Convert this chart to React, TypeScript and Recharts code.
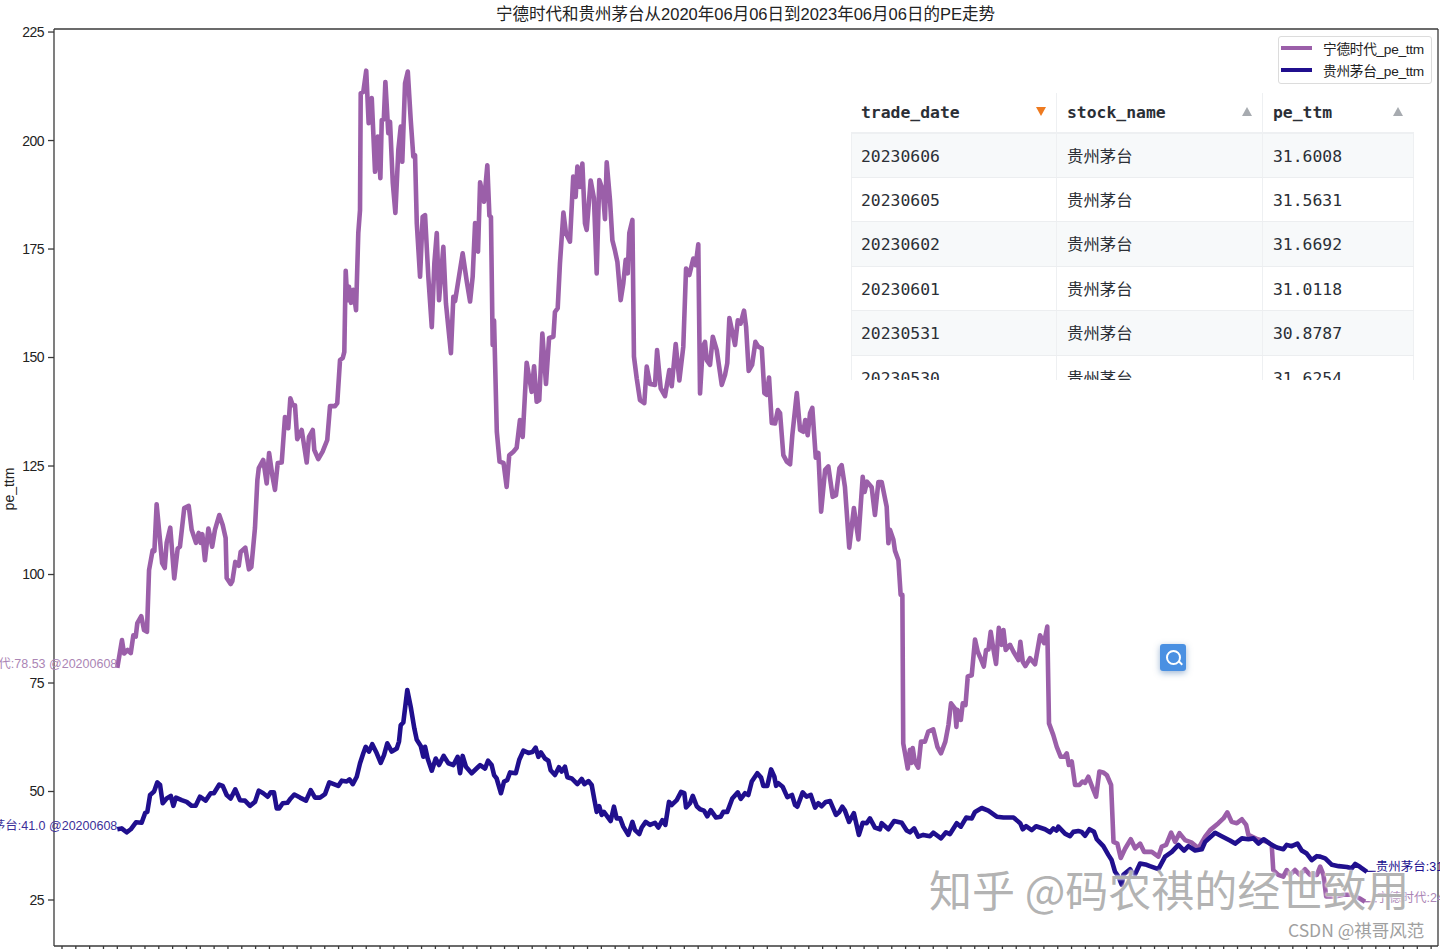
import React from 'react';
import { LineChart, Line, XAxis, YAxis, ReferenceDot, ReferenceLine } from 'recharts';

const TITLE = '宁德时代和贵州茅台从2020年06月06日到2023年06月06日的PE走势';
const NINGDE = '宁德时代_pe_ttm';
const MOUTAI = '贵州茅台_pe_ttm';
const yTicks = [25, 50, 75, 100, 125, 150, 175, 200, 225];

const ningdeA = [[0,78.5],[2.7,84.9],[3.9,81.8],[6,82.6],[7.8,81.9],[9.3,86],[10.7,85.7],[11.6,88.8],[13.9,90.4],[15.5,87.2],[17.2,86.8],[18.4,101],[20.5,105.6],[21.5,105.4],[22.8,116.2],[26,102.6],[27.5,101.5],[28.6,107.3],[30.7,110.8],[33,99.1],[35,106],[36.3,106.4],[38.8,115.3],[41.4,115.8],[43.1,110.3],[45.6,107.3],[47.2,109.6],[48.3,107.3],[49.3,109.3],[50.8,103.3],[52.8,110.6],[55,106.4],[56.6,110.3],[59.1,113.7],[61.1,111.4],[62.8,108.4],[63.4,99.2],[65.7,97.8],[66.7,98.5],[68.4,102.9],[70.4,102],[71.5,105.2],[74.2,106.2],[76.3,101.2],[77.7,101.7],[79.8,110.7],[81.2,121.8],[82,124.5],[84.6,126.4],[86.6,121],[88,128],[90,122.5],[91.4,119.5],[93,125.7],[95.3,125.8],[97.2,136.3],[99.1,133.7],[100.3,140.6],[101.7,139],[103,139],[104.3,131.2],[106.9,133.3],[109.8,125.8],[111.1,131.7],[113.3,133.3],[114.2,128.7],[116.5,126.6],[119,128.3],[121.7,131],[123.3,138.8],[126.2,138.8],[127.5,139.5],[129.1,149.4],[130.7,149.9],[131.6,151.3],[132.4,170],[133.3,163.2],[134.3,166.3],[135.5,162.6],[136.8,165.6],[138.4,160.9],[139.7,178.7],[140.7,184],[141.1,210.9],[142.6,211.2],[144.3,216.1],[145.7,204],[147.5,209.8],[149.4,192.8],[151,200.9],[152.5,191.3],[153.3,204.7],[154.5,204.9],[155.4,213.5],[157.1,201.7],[158.1,204.3],[159.7,190.2],[161.2,183.3],[162.9,197.8],[164.3,203.2],[165.2,195.1],[166.8,213.2],[168.4,215.9],[170.1,204.7],[171.6,196.3],[172.6,196.6],[173.6,181],[175.5,168.6],[177,182.4],[178.4,182.8],[180.3,168.6],[182.3,157],[183.8,171.8],[185.2,178.7],[186.5,163.2],[189,175.5],[190.5,162.5],[193.4,151],[194.8,164],[195.8,163],[200.2,174],[202.6,167.5],[204.5,162.9],[206,168.6],[207.4,181],[209.1,174.4],[210.3,190.4],[212.6,185.9],[214.5,194.3],[215.7,182.7],[216.6,182.4],[217.6,152.9],[218.4,158.5],[220,132.9]];
const ningdeB = [[221.6,126],[223.9,125.7],[225.7,120.2],[227.2,127.5],[229.6,128.3],[231.5,129.2],[233.4,135.6],[235,131.7],[237.3,148.8],[240.2,142.1],[241.6,148],[243.1,139.8],[244.6,140.2],[246.4,155.5],[248.5,143.9],[250.3,154.5],[252.8,154.8],[253.7,160.5],[255.3,161.4],[256.6,171.7],[258.6,183.4],[260.1,178.6],[262.4,176.7],[264.3,191.7],[265.7,187],[266.7,194],[268.2,189.3],[269.6,194.7],[271.1,180.9],[272.1,179.4],[274.4,190.8],[276.3,186.7],[277.9,169.4],[279.4,190.9],[281.4,188.6],[282.7,181.9],[283.7,195],[285.6,186.3],[287,177],[288.4,174.8],[289.9,172],[291.8,163.2],[293.3,167],[294.7,172.5],[295.9,169.4],[296.8,178.7],[298.6,181.7],[299.5,150.2],[301.1,145.2],[303,140.2],[305.5,139.5],[306.9,147.9],[308.8,143.9],[311.7,143.7],[312.9,151.7],[315,142.9],[317.5,141.1],[320,147.1],[321.4,143.4],[323.7,153.1],[325.8,144.7],[328.1,152.5],[329.7,170.5],[331.6,169],[333.9,172.8],[335.3,171.3],[336.8,176.1],[337.8,141.7],[339.4,152.5],[340.7,153.6],[341.7,149.4],[343.6,148.3],[345.2,154.8],[347.5,151.7],[350.4,143.7],[352.3,146],[353.6,148.7],[354.8,159.1],[358.1,152.9],[359.7,158.6],[361.3,157.8],[363.3,160.8],[364.5,157.1],[366,146.9],[368,148.3],[369.9,153.6],[371.6,152.5],[373.6,152.1],[375.1,141.8],[376.5,141.4],[377.8,145.4],[379.4,134.9],[381.3,134.8],[382.9,137.9],[384.2,137.2],[386.1,127.5],[388.1,126],[390,125.4],[391.3,132.1],[393.9,141.8],[395.8,133.3],[397.7,132.9],[398.8,135.6],[400.2,132.1],[401.6,137.2],[402.9,138.4],[404.9,126.9],[406.4,128],[408,114.5],[410.3,124.1],[412.2,124.9],[414.7,117.9],[416.6,118.3],[418.6,124.5],[419.9,125.2],[421.8,120.2],[424.3,106.2],[427,115.3],[429.6,108.1],[432.1,122.5],[433.2,119],[434.6,121.4],[437.3,120.1],[439.2,113.7],[441.2,121.3],[443.1,121.3],[446,115.6],[447,107.2],[447.9,110.3],[449.9,108],[450.8,105.5],[452.8,103.3],[454.1,95.3],[455.1,95.3]];
const ningdeC = [[455.6,61.1],[458.2,55.3],[459.5,59.6],[460.4,56.6],[461.1,60],[462.3,56.9],[464.3,55.5],[465.9,61.5],[468.2,61.5],[470.1,63.8],[473,64.3],[475.4,60.3],[477.5,58.8],[480,61.5],[481.8,65.3],[483.3,70.3],[485.6,69.1],[486.4,64.9],[487,68.8],[489,66.5],[490.1,70.3],[491.7,69.9],[493,76.5],[495.3,76.8],[497.2,85],[498.8,82.2],[500.1,81],[502.3,78.8],[503.6,82.6],[505,82.7],[506.3,86.8],[507.8,83],[509.4,79.4],[511,87.7],[512.7,83.8],[513.7,87.2],[515,82.6],[517.5,83.8],[519.5,82.2],[522.4,80.3],[523.5,84.5],[524.9,79.9],[526.4,78.9],[529.1,80.7],[532,79.3],[534.9,86],[537.2,84.2],[539.1,88],[540.1,65.7],[542.6,63],[544.6,60.3],[546.9,58],[549,58],[550.4,58.8],[551.6,56.1],[553.3,56.9],[555.2,51.5],[557.7,51.5],[559.5,52.3],[561,52],[562.9,53.4],[565.5,50.7],[567.4,48.8],[569.3,54.6],[571.5,54.4],[573.6,53.8],[576.1,51.5],[577.5,38.4],[579.7,38],[581.7,34.7],[584.2,36.8],[587.5,39],[590,36.9],[592.9,38],[595.2,36.1],[599.7,36.1],[603.5,35],[605.5,37.3],[608,37.7],[610.9,40.5],[613.2,38.4],[615.7,40.4],[619,38.8],[622.9,38.2],[626.7,36.9],[630.6,39.6],[633.5,41.1],[638.3,42.7],[641.2,43.8],[643.5,45.2],[646,43],[649,42.7],[651.9,43.6],[654.4,42.3],[655.7,40],[661,39],[666,38.5],[669.2,37.7],[670.1,31.9],[673,30.8],[675.9,30.4],[677.9,31.9],[679.8,30.8],[682.7,31.9],[685.5,30.8],[688.5,32.1],[691.4,30.8],[695.4,30.8],[697.3,32.7],[699.2,30.8],[700.8,25.8],[705.9,25.8],[710.7,26.2],[715.6,26.2],[720,25.4],[723.3,24.6]];
const ningdePoints = [...ningdeA, ...ningdeB, ...ningdeC];

const moutaiA = [[0,41.3],[2.5,41.5],[5.4,40.6],[7.8,41.3],[10.8,42.9],[14.1,42.8],[16.2,45.1],[17.4,45.3],[19,49.2],[21.3,50],[23.2,52.1],[24.8,51.5],[26.3,47.3],[28.6,48.4],[31,49],[32.5,46.7],[34,48.6],[37.3,48],[40.2,47.6],[43.1,46.7],[45.4,46.7],[47.9,48.8],[51.2,47.9],[54.1,49.6],[56,49.6],[59.1,51.6],[61.1,51.3],[63.4,49.2],[65.7,48.4],[68.4,50.5],[71.1,48],[74,47.9],[76.9,46.7],[79.8,47.6],[82,50.2],[84.6,49.6],[87.2,48.8],[88.9,49.8],[90.8,49.8],[92.4,46.1],[93.8,46.1],[95.9,47.3],[98.6,47.4],[100.5,48.4],[102.6,49.3],[105.9,48.6],[109.4,47.9],[112.1,50.3],[114.6,48.6],[117.5,48.6],[120.4,49.4],[122.9,52.1],[128.1,51.3],[130.1,52.5],[133,52.3],[134.6,52.8],[136.5,51.7],[138.8,53.4],[140.7,56.5],[142.6,58.8],[144,60.3],[145.9,59.2],[147.8,60.9],[150.4,58.8],[152.7,56.6],[154.6,58.4],[156.5,61.1],[159.1,59.2],[162,59.9],[163.3,61.5],[164.3,65.3],[165.8,65.9],[168.1,73.4],[170.1,69.5],[172.2,64.5],[173.6,61.9],[175.9,60.5],[177.4,58],[178.4,60.3],[179.9,57.6],[182.3,54.8],[184.6,57.6],[186.5,56.1],[189.2,58.2],[191.9,56.5],[194.8,56.1],[197.3,58],[198.7,54.2],[200.2,58.2],[202.1,55.7],[205.4,54.2],[209.3,55.7],[210.3,56.1],[213.2,55.3],[214.9,57.1],[217,56.1],[218.4,53.8],[219.9,53],[222.4,49.6],[224.2,52.3],[226,52.6],[227.7,54.4],[231,54.2],[233,57.3],[235.4,59.4],[238.3,58.9],[240.6,59.1],[242.5,60.1],[244.1,58],[245.6,59],[247.9,57.6],[249.9,57.1],[251.2,54.9],[253.7,53.8],[256,55.6],[257.6,54.6],[259.5,55.7],[260.9,53.3],[263.4,53],[266.7,51.7],[269.2,52.9],[270.8,51.7],[273.1,52.4],[275,51.5],[276.6,48],[277.9,45.3],[279.4,46.6],[280.8,44.6],[282.1,45.3],[286,43.2],[287.9,46.5],[289.5,43.8],[291.5,43.8],[293.3,41.9],[296.2,40],[298.6,43],[300.1,41.1],[302.6,40.2],[304,41.7],[306.3,43],[308.8,42.3],[311.7,42.8],[313.6,41.7],[316,43.4],[317.7,42.3],[319.8,47.6],[321.4,46.9],[324.3,48],[326.8,49.9],[328.7,49.6],[329.7,46.3],[332,47.3],[333.6,49],[335.9,46.6],[337.8,45.9],[340.1,45.6],[342,44.3],[344,45.7],[347.1,44],[349.8,44.2],[351.3,45.3],[353.6,45.3],[356.5,48.4],[359.7,49.8],[361.4,48.3],[363.9,49.6],[365.8,49.2],[367.8,52.3],[371,54.2],[373.2,53.2],[374.5,51.3],[376.8,51.3],[379,55.1],[380.9,53.4],[381.9,51.3],[383.2,51.9],[385.7,51.1],[388.4,48.7],[391.1,49.2],[392.9,46.9],[394.2,46.5],[397.3,49.8],[399.6,48.8],[402,49.2],[404.5,46.3],[406.4,47.3],[408.3,46.6],[410.7,47.6],[413.2,47.8],[416.6,44.6],[418.4,45.2],[420.3,46.5],[421.8,45.6],[424.2,43],[427,45],[429.9,40],[432.1,42.8],[434.4,42.7],[436.3,43.8],[439.2,41.7],[442.1,41.3],[443.1,42.7],[447,41.3],[450.3,43.2],[454.7,42.8],[457.6,41],[459.5,40.6],[461.9,41.5],[464.3,39.6],[467.2,40],[471.1,39.7],[473,40.5],[477.5,39.2],[480.4,40.6],[482.7,40.2],[486.6,42.7],[489,41.9],[492.1,44],[495.3,43.8],[497.2,45.3],[501.1,46.2],[504.9,45.6],[509.8,44.2],[513.7,44],[519.5,44],[523.4,42.7],[524.9,41.3],[526.8,42],[530.1,41.1],[532.6,42],[537.8,41.3],[540.7,40.6],[542.6,41.5],[544.5,41],[545.5,41.9],[549.4,40.3],[552.3,39.7],[554.2,40.7],[557.1,40.9],[559,40.7],[561,39.8],[563.5,41.3],[566.2,40.7],[567.8,39],[571.6,37.4],[574.5,35.4],[576.4,34.2],[578.4,31.5]];
const moutaiB = [[580.3,30.4],[582.3,28.5],[583.2,30.8],[587.1,32.1],[589.4,30.4],[592.9,33.4],[596.7,33.1],[598.6,32.8],[603.5,32.1],[607.4,35],[611.3,36.1],[615.1,37.7],[618.4,36.4],[620.9,37.4],[624.8,36.4],[628.7,36.7],[630.6,38.4],[636.4,40.5],[640.2,39.7],[645,38.7],[648,38],[651.9,39.2],[655.7,39],[658.6,39.2],[661.6,38],[664.5,39],[669.2,37.7],[672.2,37.1],[676,36.7],[677.9,37.7],[680.8,37.4],[684.1,38],[686.6,36.4],[689.5,35.7],[692.4,34.2],[695.4,35.1],[697.3,35],[700.2,34.6],[704.1,33.1],[708,32.8],[712.8,32.6],[715.6,32.3],[717.6,33.3],[720.5,32.6],[724.4,31.5]];
const moutaiPoints = [...moutaiA, ...moutaiB];

const tableColumns = ['trade_date', 'stock_name', 'pe_ttm'];
const tableDates = ['20230606', '20230605', '20230602', '20230601', '20230531', '20230530'];
const tableNames = ['贵州茅台', '贵州茅台', '贵州茅台', '贵州茅台', '贵州茅台', '贵州茅台'];
const tablePe = ['31.6008', '31.5631', '31.6692', '31.0118', '30.8787', '31.6254'];

const PURPLE = '#9b5fa9';
const BLUE = '#200f8e';
const AXIS = '#3a3a3a';
const X_DOMAIN: [number, number] = [-36.7, 765.6];
const Y_DOMAIN: [number, number] = [14.4, 225.7];
const xTicks = Array.from({ length: 100 }, (_, k) => (k - 4) * 8.017);
const toRows = (pts: number[][]) => pts.map(([x, y]) => ({ x, y }));

const sans = '"Liberation Sans", "Noto Sans CJK SC", sans-serif';
const mono = '"DejaVu Sans Mono", "Noto Sans CJK SC", monospace';
const colW = [206, 206, 151];

function LegendBox() {
  const items = [[NINGDE, PURPLE], [MOUTAI, BLUE]];
  return (
    <div style={{ position: 'absolute', left: 1278, top: 36, width: 152, height: 46, border: '1px solid #dcdcdc', borderRadius: 3, background: '#fff', fontFamily: sans, fontSize: 13.7, color: '#222' }}>
      {items.map(([name, c], i) => (
        <div key={name} style={{ position: 'absolute', left: 2, top: 0 + i * 21.6, height: 22, width: 148, display: 'flex', alignItems: 'center' }}>
          <span style={{ width: 31, height: 4, background: c, marginRight: 11 }} />
          <span style={{ whiteSpace: 'nowrap', letterSpacing: -0.3 }}>{name}</span>
        </div>
      ))}
    </div>
  );
}

function Tri({ up, color, left }: { up: boolean; color: string; left: number }) {
  return <span style={{ position: 'absolute', left, top: 14, width: 0, height: 0, borderLeft: '5px solid transparent', borderRight: '5px solid transparent', [up ? 'borderBottom' : 'borderTop']: `9px solid ${color}` } as React.CSSProperties} />;
}

function DataTable() {
  const rowH = [44, 44, 45, 44, 45, 44];
  return (
    <div style={{ position: 'absolute', left: 851, top: 93, width: 563, height: 287, overflow: 'hidden', fontFamily: mono, fontSize: 16.4, lineHeight: '24px', color: '#2b2f36', background: '#fff' }}>
      <div style={{ display: 'flex', height: 41, borderBottom: '2px solid #eef0f2', boxSizing: 'border-box', fontWeight: 700 }}>
        {tableColumns.map((c, i) => (
          <div key={c} style={{ position: 'relative', width: colW[i], boxSizing: 'border-box', padding: '8px 10px', borderRight: i < 2 ? '1px solid #eef0f2' : undefined, whiteSpace: 'nowrap' }}>
            {c}
            <Tri up={i > 0} color={i === 0 ? '#ee7a1f' : '#a7abb0'} left={i === 0 ? 185 : i === 1 ? 185 : 130} />
          </div>
        ))}
      </div>
      {tableDates.map((d, r) => (
        <div key={d} style={{ display: 'flex', height: rowH[r], background: r % 2 === 0 ? '#f7f9fa' : '#fff', borderBottom: '1px solid #eceef0', boxSizing: 'border-box', position: 'relative' }}>
          {[d, tableNames[r], tablePe[r]].map((t, i) => (
            <div key={i} style={{ width: colW[i], boxSizing: 'border-box', borderRight: '1px solid #eef0f2', borderLeft: i === 0 ? '1px solid #eef0f2' : undefined, position: 'relative' }}>
              <span style={{ position: 'absolute', left: i === 0 ? 9 : 10, top: 11, whiteSpace: 'nowrap' }}>{t}</span>
            </div>
          ))}
        </div>
      ))}
    </div>
  );
}

const pointLabel = (value: string, fill: string, anchor: 'start' | 'end', dy: number) => (p: any) => {
  const vb = p.viewBox || {};
  const cx = (vb.x ?? 0) + (vb.width ?? 0) / 2;
  const cy = (vb.y ?? 0) + (vb.height ?? 0) / 2;
  return <text x={cx} y={cy + dy} textAnchor={anchor} fill={fill} fontSize={12.5} fontFamily={sans}>{value}</text>;
};

export default function App() {
  return (
    <div style={{ position: 'absolute', left: 0, top: 0, width: 1440, height: 949, overflow: 'hidden', background: '#fff' }}>
      <LineChart width={1440} height={949} margin={{ left: 53, top: 28, right: 1, bottom: 2 }}>
        <XAxis dataKey="x" type="number" domain={X_DOMAIN} allowDataOverflow ticks={xTicks} tickFormatter={() => ''} tickSize={6} height={1} stroke={AXIS} strokeWidth={1.3} interval={0} />
        <XAxis xAxisId="top" orientation="top" type="number" domain={X_DOMAIN} allowDataOverflow tick={false} tickLine={false} height={1} stroke={AXIS} strokeWidth={1.3} />
        <YAxis type="number" domain={Y_DOMAIN} allowDataOverflow ticks={yTicks} interval={0} width={1} tickSize={6} tickMargin={4} stroke={AXIS} strokeWidth={1.3} tick={{ fill: '#222', fontSize: 14, fontFamily: sans, letterSpacing: -0.5 }} />
        <YAxis yAxisId="right" orientation="right" type="number" domain={Y_DOMAIN} allowDataOverflow tick={false} tickLine={false} width={1} stroke={AXIS} strokeWidth={1.3} />
        <Line name={NINGDE} data={toRows(ningdePoints)} dataKey="y" type="linear" stroke={PURPLE} strokeWidth={4.6} dot={false} isAnimationActive={false} strokeLinejoin="round" />
        <Line name={MOUTAI} data={toRows(moutaiPoints)} dataKey="y" type="linear" stroke={BLUE} strokeWidth={4.6} dot={false} isAnimationActive={false} strokeLinejoin="round" />
        <ReferenceLine segment={[{ x: 724.4, y: 31.6 }, { x: 729.5, y: 31.6 }]} stroke={BLUE} strokeWidth={1.2} />
        <ReferenceLine segment={[{ x: 723.3, y: 24.6 }, { x: 730, y: 24.6 }]} stroke={PURPLE} strokeWidth={1.2} />
        <ReferenceDot x={0} y={78.53} r={0} stroke="none" fill="none" label={{ content: pointLabel('宁德时代:78.53 @20200608', '#ab85b5', 'end', 0) }} />
        <ReferenceDot x={0} y={41} r={0} stroke="none" fill="none" label={{ content: pointLabel('贵州茅台:41.0 @20200608', '#3c2f99', 'end', -1) }} />
        <ReferenceDot x={729.5} y={31.6} r={0} stroke="none" fill="none" label={{ content: pointLabel('贵州茅台:31.6 @20230606', BLUE, 'start', 0) }} />
        <ReferenceDot x={730} y={24.6} r={0} stroke="none" fill="none" label={{ content: pointLabel('宁德时代:24.6 @20230606', '#ab85b5', 'start', 0) }} />
      </LineChart>
      <div style={{ position: 'absolute', left: 0, width: 1491, top: 4, lineHeight: '21px', textAlign: 'center', fontFamily: sans, fontSize: 16.5, color: '#222', whiteSpace: 'nowrap' }}>{TITLE}</div>
      <div style={{ position: 'absolute', left: 9, top: 489, fontFamily: sans, fontSize: 14, color: '#222', whiteSpace: 'nowrap', transform: 'translate(-50%,-50%) rotate(-90deg)' }}>pe_ttm</div>
      <LegendBox />
      <DataTable />
      <div style={{ position: 'absolute', left: 1160, top: 644, width: 26, height: 27, background: '#4a90e2', borderRadius: 3, boxShadow: '0 2px 6px rgba(60,110,170,.5)' }}>
        <div style={{ position: 'absolute', left: 6, top: 6, width: 11, height: 11, borderRadius: '50%', border: '2px solid #fff' }} />
        <div style={{ position: 'absolute', left: 18, top: 18, width: 5, height: 2, background: '#fff', transform: 'rotate(45deg)' }} />
      </div>
      <div style={{ position: 'absolute', left: 929, top: 860, fontFamily: '"Noto Sans CJK SC", sans-serif', fontSize: 43, lineHeight: '56px', color: 'rgba(165,165,165,.85)', whiteSpace: 'nowrap', textShadow: '0 0 2px #fff, 0 0 3px #fff' }}>知乎 @码农祺的经世致用</div>
      <div style={{ position: 'absolute', left: 1288, top: 918, fontFamily: '"Noto Sans CJK SC", sans-serif', fontSize: 17.5, lineHeight: '24px', color: '#a0a0a0', whiteSpace: 'nowrap' }}>CSDN @祺哥风范</div>
    </div>
  );
}
